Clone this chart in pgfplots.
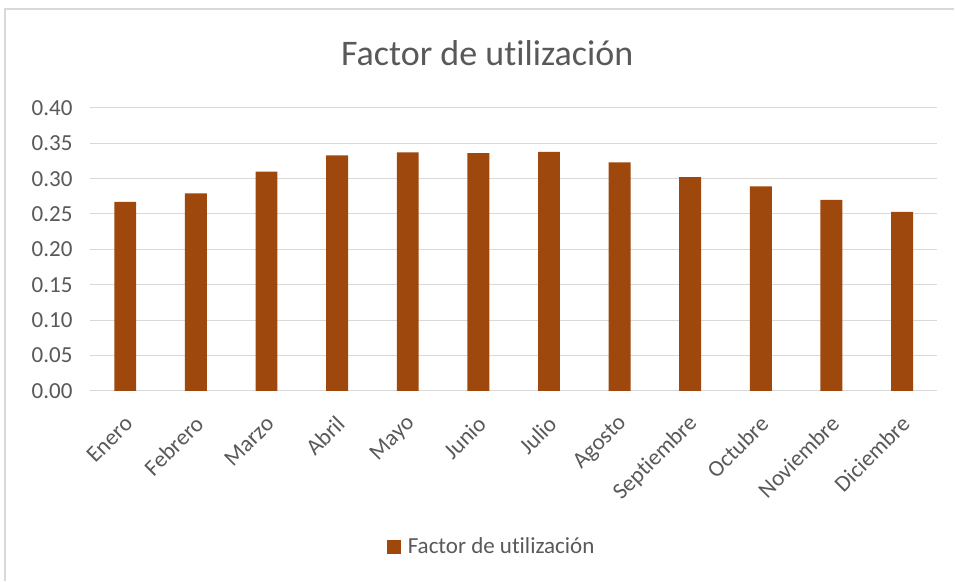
\documentclass[border=0pt]{standalone}
\usepackage{pgfplots}
\pgfplotsset{compat=1.18}
\usepackage{fontspec}
\setmainfont{Carlito}[RawFeature={-liga;-clig;-dlig}]
\definecolor{barc}{HTML}{9E480E}
\definecolor{txt}{HTML}{595959}
\definecolor{grd}{HTML}{D9D9D9}
\begin{document}
\begin{tikzpicture}[x=1pt,y=1pt]
\path[fill=white] (0,0) rectangle (955,581);
\draw[grd, line width=1.2pt] (5,0) -- (5,572) -- (955,572);
\node[text=txt, font=\fontsize{36}{42}\selectfont] at (487.5,528) {Factor de utilización};
\begin{axis}[
  at={(90pt,190pt)}, anchor=south west,
  width=848pt, height=283pt, scale only axis,
  xmin=-0.5, xmax=11.5, ymin=0, ymax=0.40,
  ytick={0,0.05,...,0.40},
  xtick={0,...,11},
  xticklabels={Enero,Febrero,Marzo,Abril,Mayo,Junio,Julio,Agosto,Septiembre,Octubre,Noviembre,Diciembre},
  axis line style={draw=none},
  major tick length=0pt,
  ymajorgrids, grid style={grd, line width=1pt},
  /pgf/number format/assume math mode=true,
  yticklabel={\pgfmathprintnumber[fixed,fixed zerofill,precision=2]{\tick}},
  yticklabel style={text=txt, font=\fontsize{23}{27}\selectfont, xshift=-14pt},
  xticklabel style={text=txt, font=\fontsize{23}{27}\selectfont, yshift=-27pt, xshift=6pt, rotate=45, anchor=east},
  legend style={at={(0.474,-0.551)}, anchor=center, draw=none, fill=none, text=txt, font=\fontsize{23}{27}\selectfont, inner sep=0pt, column sep=5pt},
  legend image code/.code={\fill[#1] (0pt,-7pt) rectangle (14pt,7pt);},
  legend cell align=left,
]
\addplot[ybar, bar width=22pt, fill=barc, draw=none] coordinates {
(0,0.267) (1,0.279) (2,0.310) (3,0.333) (4,0.337) (5,0.336)
(6,0.338) (7,0.323) (8,0.302) (9,0.289) (10,0.270) (11,0.253)};
\addlegendentry{Factor de utilización}
\end{axis}
\end{tikzpicture}
\end{document}
